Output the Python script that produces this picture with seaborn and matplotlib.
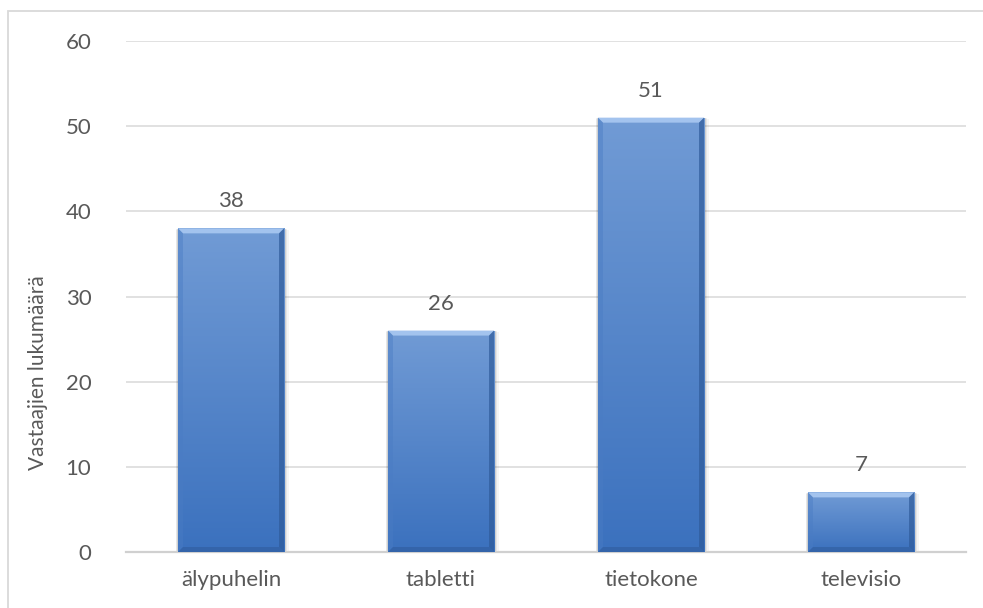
import numpy as np
import matplotlib
matplotlib.use("Agg")
import matplotlib.pyplot as plt
from matplotlib.patches import Polygon, Rectangle
from matplotlib.colors import LinearSegmentedColormap
import seaborn as sns

# Laitteet ja vastaajien lukumäärät
categories = ["älypuhelin", "tabletti", "tietokone", "televisio"]
counts = [38, 26, 51, 7]
y_ticks = [0, 10, 20, 30, 40, 50, 60]

sns.set_theme(style="white")
plt.rcParams["font.family"] = ["Lato", "DejaVu Sans"]

W, H, DPI = 983, 608, 100
fig = plt.figure(figsize=(W / DPI, H / DPI), dpi=DPI)
ax_l, ax_r, ax_t, ax_b = 126, 966, 41, 552
ax = fig.add_axes([ax_l / W, 1 - ax_b / H, (ax_r - ax_l) / W, (ax_b - ax_t) / H])

text_col = "#595959"
grid_col = "#d9d9d9"
fs = 16

sns.barplot(x=categories, y=counts, color="#4f81bd", width=0.505, ax=ax,
            zorder=3, edgecolor="none")
ax.set_ylim(0, 60)
ax.set_xlim(-0.5, len(categories) - 0.5)
ax.set_yticks(y_ticks)
ax.yaxis.grid(True, color=grid_col, linewidth=1.1, zorder=0)
ax.set_axisbelow(True)
for s in ["top", "right", "left"]:
    ax.spines[s].set_visible(False)
ax.spines["bottom"].set_color("#d0d0d0")
ax.spines["bottom"].set_linewidth(1.6)
ax.tick_params(axis="both", length=0, labelsize=fs, colors=text_col)
ax.tick_params(axis="y", pad=25)
ax.tick_params(axis="x", pad=13)
ax.set_xlabel("")
ax.set_ylabel("Vastaajien lukumäärä", fontsize=15, color=text_col)
ax.yaxis.set_label_coords((48 - ax_l) / (ax_r - ax_l), (ax_b - 373) / (ax_b - ax_t))

# pixel sizes in data units
px_x = (len(categories)) / (ax_r - ax_l)
px_y = 60 / (ax_b - ax_t)

grad = LinearSegmentedColormap.from_list("bar", ["#3b71be", "#719bd5"])
bevel = 5

for patch, val in zip(ax.patches, counts):
    x0, y0 = patch.get_x(), patch.get_y()
    w, h = patch.get_width(), patch.get_height()
    x1, y1 = x0 + w, y0 + h
    # soft shadow
    for k, a in zip([6, 4, 2], [0.04, 0.06, 0.09]):
        ax.add_patch(Rectangle((x0 - k * px_x * 0.4, y0), w + k * px_x * 1.2,
                               h - k * px_y * 0.2, facecolor="black",
                               alpha=a, edgecolor="none", zorder=2))
    # vertical gradient fill
    g = np.linspace(0, 1, 256).reshape(-1, 1)
    im = ax.imshow(g, cmap=grad, aspect="auto", origin="lower",
                   extent=(x0, x1, y0, y1), zorder=3.5)
    im.set_clip_path(patch)
    bx, by = bevel * px_x, bevel * px_y
    # top bevel
    ax.add_patch(Polygon([(x0, y1), (x1, y1), (x1 - bx, y1 - by), (x0 + bx, y1 - by)],
                         closed=True, facecolor="#a3c3ee", edgecolor="none", zorder=4))
    # left bevel
    ax.add_patch(Polygon([(x0, y0), (x0, y1), (x0 + bx, y1 - by), (x0 + bx, y0 + by)],
                         closed=True, facecolor="#4a7cc4", alpha=0.45, edgecolor="none", zorder=4))
    # right bevel
    ax.add_patch(Polygon([(x1, y0), (x1, y1), (x1 - bx, y1 - by), (x1 - bx, y0 + by)],
                         closed=True, facecolor="#2f5b9a", alpha=0.7, edgecolor="none", zorder=4))
    # bottom bevel
    ax.add_patch(Polygon([(x0, y0), (x1, y0), (x1 - bx, y0 + by), (x0 + bx, y0 + by)],
                         closed=True, facecolor="#2f5b9a", alpha=0.55, edgecolor="none", zorder=4))
    ax.text(x0 + w / 2, y1 + 2.0, f"{val}", ha="center", va="bottom",
            fontsize=fs, color=text_col, zorder=5)
    patch.set_facecolor("none")

# chart-area border
fig.add_artist(Rectangle((8 / W, -0.1), 1.1, 1.1 - 11 / H, transform=fig.transFigure,
                         facecolor="none", edgecolor="#d9d9d9", linewidth=1.3))

fig.savefig("out.png", dpi=DPI)
